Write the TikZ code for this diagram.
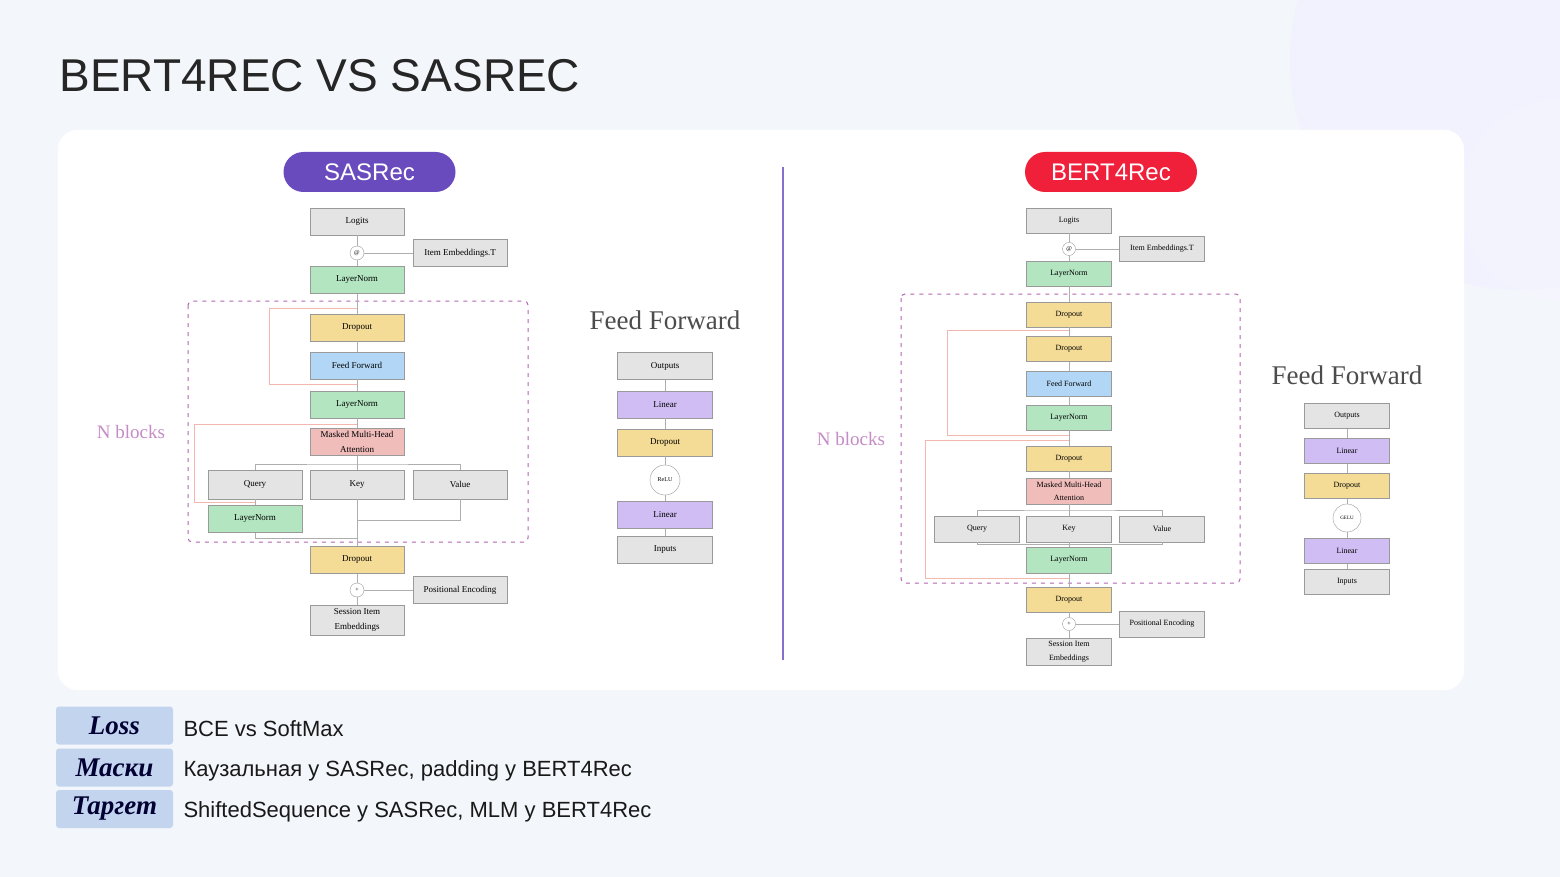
\documentclass[tikz,border=0pt]{standalone}
\usepackage{fontspec}
\setmainfont{Liberation Serif}
\newfontfamily\sans{Liberation Sans}
\usetikzlibrary{calc}
\definecolor{bg}{HTML}{F3F6FA}
\definecolor{gbox}{HTML}{E4E4E4}
\definecolor{gbd}{HTML}{9A9A9A}
\definecolor{grn}{HTML}{B2E5C0}
\definecolor{ylw}{HTML}{F4DC96}
\definecolor{blu}{HTML}{B2D6F5}
\definecolor{pnk}{HTML}{F0BDBB}
\definecolor{prp}{HTML}{D0BDF4}
\definecolor{sas}{HTML}{6A4BBE}
\definecolor{brt}{HTML}{F0203A}
\definecolor{lbl}{HTML}{C3D4EE}
\definecolor{res}{HTML}{F2B8B0}
\begin{document}
\begin{tikzpicture}[x=1pt,y=-1pt,
  bx/.style={draw=gbd,line width=0.8pt,inner sep=0pt,minimum width=94pt,minimum height=27pt,align=center,font=\fontsize{9}{15}\selectfont},
  sbx/.style={bx,minimum width=85pt,minimum height=25pt,font=\fontsize{8}{14}\selectfont},
  op/.style={circle,draw=gbd,fill=white,inner sep=0pt,minimum size=14pt,font=\fontsize{6}{6}\selectfont},
  ln/.style={draw=gbd!80,line width=0.8pt},
  rs/.style={draw=res,line width=0.8pt},
  blk/.style={draw=violet!60,dashed,line width=1pt,dash pattern=on 4pt off 5pt,rounded corners=4pt},
  nb/.style={text=violet!45,font=\fontsize{19}{19}\selectfont},
  fft/.style={text=black!70,font=\fontsize{27}{27}\selectfont},
  pill/.style={rounded corners=20pt,minimum width=172pt,minimum height=40pt,text=white,font=\sans\fontsize{24}{24}\selectfont},
  tag/.style={fill=lbl,rounded corners=3pt,minimum width=117pt,minimum height=38pt,inner sep=0pt,font=\bfseries\itshape\fontsize{27}{27}\selectfont,text=black!80!blue},
  desc/.style={anchor=west,font=\sans\fontsize{22}{22}\selectfont,text=black!90}]
\useasboundingbox (0,0) rectangle (1560,877);
\fill[bg] (0,0) rectangle (1560,877);
\begin{scope}
\clip (0,0) rectangle (1560,877);
\fill[blue!6,opacity=0.6] (1520,60) circle (230);
\fill[blue!4,opacity=0.6] (1560,200) circle (100);
\end{scope}
\node[anchor=west,font=\sans\fontsize{46}{46}\selectfont,text=black!85] (title) at (56,76) {BERT4REC VS SASREC};
\draw[white,rounded corners=20pt,fill=white] (58,130) rectangle (1464,690);
\draw[sas!80,line width=1.2pt] (783,167) -- (783,660);
\node[pill,fill=sas] (p1) at (369.5,172) {SASRec};
\node[pill,fill=brt] (p2) at (1111,172) {BERT4Rec};

% ---------- SASRec ----------
\draw[blk] (188,301) rectangle (528,542);
\node[nb] (nb1) at (131,432) {N blocks};
\node[bx,fill=gbox] (s-log) at (357,221.5) {Logits};
\node[op] (s-mul) at (357,253) {@};
\node[bx,fill=gbox] (s-ie) at (460,253) {Item Embeddings.T};
\node[bx,fill=grn] (s-ln0) at (357,280) {LayerNorm};
\node[bx,fill=ylw] (s-do1) at (357,327.5) {Dropout};
\node[bx,fill=blu] (s-ff) at (357,365.5) {Feed Forward};
\node[bx,fill=grn] (s-ln1) at (357,404.5) {LayerNorm};
\node[bx,fill=pnk] (s-att) at (357,442) {Masked Multi-Head\\Attention};
\node[bx,fill=gbox,minimum height=29pt] (s-q) at (255,484.5) {Query};
\node[bx,fill=gbox,minimum height=29pt] (s-k) at (357,484.5) {Key};
\node[bx,fill=gbox,minimum height=29pt] (s-v) at (460,484.5) {Value};
\node[bx,fill=grn] (s-ln2) at (255,519) {LayerNorm};
\node[bx,fill=ylw] (s-do0) at (357,560) {Dropout};
\node[op] (s-add) at (357,590) {+};
\node[bx,fill=gbox] (s-pe) at (460,590) {Positional Encoding};
\node[bx,fill=gbox,minimum height=30pt] (s-emb) at (357,620) {Session Item\\Embeddings};
\draw[ln] (s-emb) -- (s-add) -- (s-do0);
\draw[ln] (s-pe) -- (s-add);
\draw[ln] (s-ie) -- (s-mul);
\draw[ln] (s-ln0) -- (s-mul) -- (s-log);
\draw[ln] (s-do0.north) -- (s-k.south);
\draw[ln] (357,538) -| (s-ln2.south);
\draw[ln] (357,520) -| (s-v.south);
\draw[ln] (s-ln2) -- (s-q);
\draw[ln] (s-att.south) -- (s-k.north);
\draw[ln] (255,470) |- (357,464) -| (460,470);
\draw[ln] (s-att) -- (s-ln1);
\draw[ln] (s-ln1) -- (s-ff);
\draw[ln] (s-ff) -- (s-do1);
\draw[ln] (s-do1) -- (s-ln0);
\draw[rs] (357,308) -| (269,384) -- (357,384);
\draw[rs] (357,424) -| (194,502) -- (255,502);
% FF panel
\node[fft] (ft1) at (665,320) {Feed Forward};
\node[bx,fill=gbox,minimum width=95pt] (f-out) at (665,366) {Outputs};
\node[bx,fill=prp,minimum width=95pt] (f-l2) at (665,404.5) {Linear};
\node[bx,fill=ylw,minimum width=95pt] (f-do) at (665,442.5) {Dropout};
\node[op,minimum size=30pt] (f-act) at (665,480) {ReLU};
\node[bx,fill=prp,minimum width=95pt] (f-l1) at (665,515) {Linear};
\node[bx,fill=gbox,minimum width=95pt] (f-in) at (665,549.5) {Inputs};
\draw[ln] (f-in) -- (f-l1) -- (f-act) -- (f-do) -- (f-l2) -- (f-out);

% ---------- BERT4Rec ----------
\draw[blk] (901,294) rectangle (1240,583);
\node[nb] (nb2) at (851,439) {N blocks};
\node[sbx,fill=gbox] (b-log) at (1069,220.5) {Logits};
\node[op,minimum size=13pt] (b-mul) at (1069,249) {@};
\node[sbx,fill=gbox] (b-ie) at (1162,249) {Item Embeddings.T};
\node[sbx,fill=grn] (b-ln0) at (1069,273.5) {LayerNorm};
\node[sbx,fill=ylw] (b-do2) at (1069,314.5) {Dropout};
\node[sbx,fill=ylw] (b-do1) at (1069,349) {Dropout};
\node[sbx,fill=blu] (b-ff) at (1069,383.5) {Feed Forward};
\node[sbx,fill=grn] (b-ln1) at (1069,417.5) {LayerNorm};
\node[sbx,fill=ylw] (b-do3) at (1069,458.5) {Dropout};
\node[sbx,fill=pnk,minimum height=26pt,font=\fontsize{8}{13}\selectfont] (b-att) at (1069,491) {Masked Multi-Head\\Attention};
\node[sbx,fill=gbox,minimum height=26pt] (b-q) at (977,529) {Query};
\node[sbx,fill=gbox,minimum height=26pt] (b-k) at (1069,529) {Key};
\node[sbx,fill=gbox,minimum height=26pt] (b-v) at (1162,529) {Value};
\node[sbx,fill=grn,minimum height=26pt] (b-ln2) at (1069,560) {LayerNorm};
\node[sbx,fill=ylw] (b-do0) at (1069,599.5) {Dropout};
\node[op,minimum size=13pt] (b-add) at (1069,624) {+};
\node[sbx,fill=gbox,minimum height=26pt] (b-pe) at (1162,624) {Positional Encoding};
\node[sbx,fill=gbox,minimum height=27pt] (b-emb) at (1069,651.5) {Session Item\\Embeddings};
\draw[ln] (b-emb) -- (b-add) -- (b-do0) -- (b-ln2) -- (b-k);
\draw[ln] (b-pe) -- (b-add);
\draw[ln] (b-ie) -- (b-mul);
\draw[ln] (b-ln0) -- (b-mul) -- (b-log);
\draw[ln] (b-q.south) |- (1069,544.5) -| (b-v.south);
\draw[ln] (b-att.south) -- (b-k.north);
\draw[ln] (977,516) |- (1069,510) -| (1162,516);
\draw[ln] (b-att) -- (b-do3) -- (b-ln1) -- (b-ff) -- (b-do1) -- (b-do2) -- (b-ln0);
\draw[rs] (1069,330) -| (947,435) -- (1069,435);
\draw[rs] (1069,440) -| (925,578) -- (1069,578);
\node[fft] (ft2) at (1347,375) {Feed Forward};
\node[sbx,fill=gbox] (g-out) at (1347,416) {Outputs};
\node[sbx,fill=prp] (g-l2) at (1347,451) {Linear};
\node[sbx,fill=ylw] (g-do) at (1347,486) {Dropout};
\node[op,minimum size=28pt,font=\fontsize{5}{5}\selectfont] (g-act) at (1347,518) {GELU};
\node[sbx,fill=prp] (g-l1) at (1347,551) {Linear};
\node[sbx,fill=gbox] (g-in) at (1347,582) {Inputs};
\draw[ln] (g-in) -- (g-l1) -- (g-act) -- (g-do) -- (g-l2) -- (g-out);

% ---------- bottom ----------
\node[tag] (t1) at (114.5,725.5) {Loss};
\node[tag] (t2) at (114.5,767.5) {Маски};
\node[tag] (t3) at (114.5,809) {Таргет};
\node[desc] (d1) at (180,729) {BCE vs SoftMax};
\node[desc] (d2) at (180,771) {Каузальная у SASRec, padding у BERT4Rec};
\node[desc] (d3) at (180,812) {ShiftedSequence у SASRec, MLM у BERT4Rec};
\end{tikzpicture}
\end{document}
